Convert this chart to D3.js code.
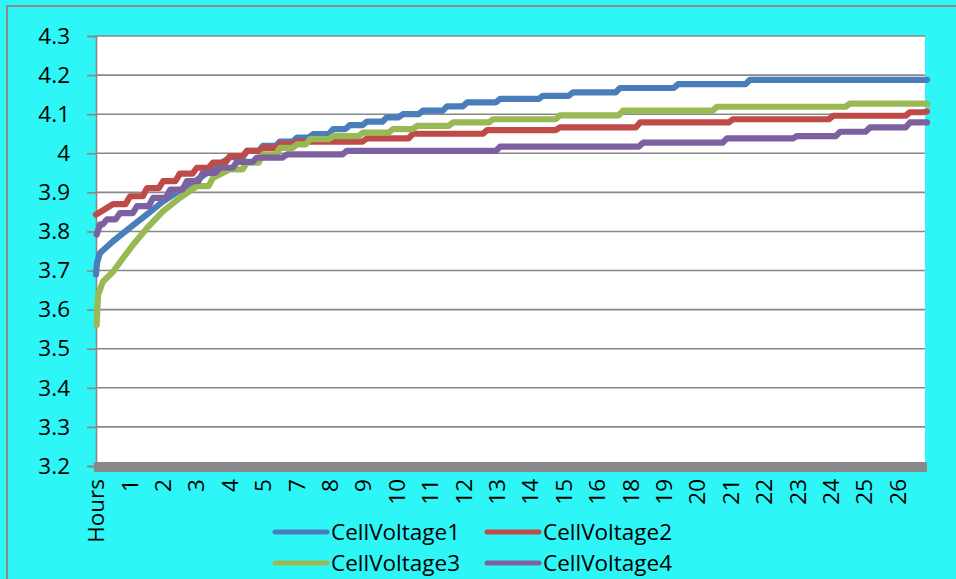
<!DOCTYPE html>
<html>
<head>
<meta charset="utf-8">
<style>
  body { margin: 0; background: #2ef6f6; overflow: hidden; }
  svg text { font-family: "Open Sans", sans-serif; font-size: 22.5px; fill: #000; }
</style>
<title>Cell voltages</title>
</head>
<body>
<script src="https://cdn.jsdelivr.net/npm/d3@7"></script>
<script>

// x labels (category axis, Excel skipped some hours)
var hourLabels = ["Hours","1","2","3","4","5","7","8","9","10","11","12","13",
                  "14","15","16","18","19","20","21","22","23","24","25","26"];

var yTicks = [3.2,3.3,3.4,3.5,3.6,3.7,3.8,3.9,4.0,4.1,4.2,4.3];

var seriesNames = ["CellVoltage1","CellVoltage2","CellVoltage3","CellVoltage4"];
var seriesColors = ["#4a7ebb","#be4b48","#98b954","#7d60a0"];

// [position on label axis, volts]
var cellVoltage1 = [[0,3.69],[0.03,3.72],[0.12,3.745],[0.51,3.775],[1.02,3.81],[1.53,3.844],
  [2.01,3.877],[2.51,3.905],[3.02,3.932],[3.5,3.96],[4.01,3.99],[4.52,4.006],[5.0,4.019],
  [5.51,4.03],[6.02,4.04],[6.5,4.049],[7.1,4.062],[7.6,4.072],[8.11,4.081],[8.71,4.092],
  [9.19,4.1],[9.79,4.109],[10.51,4.12],[11.11,4.13],[12.1,4.139],[13.38,4.147],[14.28,4.156],
  [15.69,4.167],[17.43,4.177],[19.58,4.188],[24.88,4.188]];

var cellVoltage2 = [[0,3.843],[0.51,3.87],[1.02,3.89],[1.53,3.911],[2.01,3.929],[2.51,3.948],
  [3.02,3.963],[3.5,3.976],[4.01,3.993],[4.52,4.006],[5.0,4.014],[5.51,4.024],[6.02,4.03],
  [8.11,4.038],[9.49,4.05],[11.71,4.059],[13.89,4.066],[16.29,4.079],[19.07,4.087],
  [22.07,4.096],[24.37,4.105],[24.88,4.107]];

var cellVoltage3 = [[0.02,3.561],[0.06,3.638],[0.21,3.672],[0.51,3.697],[0.81,3.732],[1.11,3.766],
  [1.53,3.809],[2.01,3.852],[2.51,3.886],[3.02,3.916],[3.5,3.937],[4.01,3.959],[4.52,3.976],
  [5.0,3.997],[5.51,4.014],[6.02,4.023],[6.41,4.036],[7.1,4.044],[7.99,4.053],[8.89,4.062],
  [9.61,4.07],[10.69,4.079],[11.89,4.087],[13.89,4.097],[15.78,4.109],[18.59,4.119],
  [22.57,4.127],[24.88,4.127]];

var cellVoltage4 = [[0.02,3.792],[0.12,3.818],[0.33,3.831],[0.72,3.847],[1.23,3.865],[1.71,3.886],
  [2.22,3.907],[2.72,3.929],[3.2,3.95],[3.71,3.963],[4.22,3.978],[4.82,3.989],[5.72,3.997],
  [7.51,4.006],[12.1,4.017],[16.38,4.027],[18.89,4.038],[20.99,4.044],[22.28,4.055],
  [23.17,4.066],[24.37,4.079],[24.88,4.079]];

var allSeries = [cellVoltage1, cellVoltage2, cellVoltage3, cellVoltage4];

var W = 956, H = 579;
var plot = {left: 96, right: 925, top: 36, bottom: 466};

var svg = d3.select("body").append("svg")
  .attr("width", W).attr("height", H);

// outer frame (left + top edges show)
svg.append("rect").attr("x",7).attr("y",6).attr("width",W).attr("height",H+10)
  .attr("fill","#2ef6f6").attr("stroke","#8a8a8a").attr("stroke-width",2);

svg.append("rect").attr("x",plot.left).attr("y",plot.top)
  .attr("width",plot.right-plot.left).attr("height",plot.bottom-plot.top)
  .attr("fill","#fff");

var x = d3.scaleLinear().domain([0,24.82]).range([plot.left, plot.right]);
var y = d3.scaleLinear().domain([3.2,4.3]).range([plot.bottom, plot.top]);

// gridlines
svg.append("g").selectAll("line").data(yTicks).enter().append("line")
  .attr("x1", plot.left).attr("x2", plot.right)
  .attr("y1", function(d){return y(d);}).attr("y2", function(d){return y(d);})
  .attr("stroke","#888").attr("stroke-width",1.6);

// y axis
var yAxis = svg.append("g").attr("transform","translate("+plot.left+",0)")
  .call(d3.axisLeft(y).tickValues(yTicks).tickSize(9).tickPadding(17)
    .tickFormat(function(d){ return d3.format(".1f")(d).replace(/\.0$/,""); }));
yAxis.select(".domain").attr("stroke","#888").attr("stroke-width",1.6);
yAxis.selectAll(".tick line").attr("stroke","#888").attr("stroke-width",1.6);
yAxis.selectAll("text").attr("font-family",null).attr("font-size",null);

// thick category axis bar
svg.append("rect").attr("x",plot.left-2).attr("y",plot.bottom-4)
  .attr("width",plot.right-plot.left+4).attr("height",10).attr("rx",1.5)
  .attr("fill","#888");

// x labels, rotated
svg.append("g").selectAll("text").data(hourLabels).enter().append("text")
  .attr("transform", function(d,i){ return "translate("+x(i)+",479) rotate(-90)"; })
  .attr("text-anchor","end").attr("dy","0.36em")
  .text(function(d){ return d; });

// staircase with short slanted risers; big rises drawn straight (dense readings there)
function stairs(pts) {
  var out = [pts[0]], ramp = 0.13;
  for (var i = 1; i < pts.length; i++) {
    var prev = pts[i-1], cur = pts[i];
    if (cur[1] - prev[1] < 0.022) {
      out.push([Math.max(prev[0], cur[0] - ramp), prev[1]]);
    }
    out.push(cur);
  }
  return out;
}

var line = d3.line()
  .x(function(d){ return x(d[0]); })
  .y(function(d){ return y(d[1]); });

svg.append("g").selectAll("path").data(allSeries).enter().append("path")
  .attr("d", function(d){ return line(stairs(d)); })
  .attr("fill","none")
  .attr("stroke", function(d,i){ return seriesColors[i]; })
  .attr("stroke-width",6.2)
  .attr("stroke-linejoin","round")
  .attr("stroke-linecap","round");

// legend, 2 x 2
var legendPos = [[273,532],[485,532],[273,563],[485,563]];
var lg = svg.append("g").selectAll("g").data(seriesNames).enter().append("g")
  .attr("transform", function(d,i){ return "translate("+legendPos[i][0]+","+legendPos[i][1]+")"; });
lg.append("line").attr("x1",2).attr("x2",54).attr("y1",0).attr("y2",0)
  .attr("stroke", function(d,i){ return seriesColors[i]; })
  .attr("stroke-width",5).attr("stroke-linecap","round");
lg.append("text").attr("x",58).attr("dy","0.36em").text(function(d){ return d; });

</script>
</body>
</html>
